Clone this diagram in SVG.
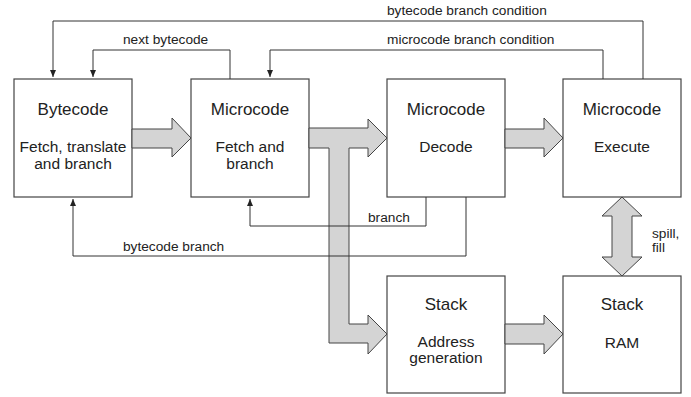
<svg xmlns="http://www.w3.org/2000/svg" width="691" height="397" viewBox="0 0 691 397">
<defs>
<style>
.box{fill:#fff;stroke:#444;stroke-width:1.2}
.fat{fill:#d4d4d4;stroke:#444;stroke-width:1}
.ln{fill:none;stroke:#333;stroke-width:1}
.t{font-family:"Liberation Sans",Arial,sans-serif;fill:#222}
.h{font-size:17px;text-anchor:middle}
.s{font-size:15.5px;text-anchor:middle}
.l{font-size:13.7px}
</style>
<marker id="ah" markerUnits="userSpaceOnUse" markerWidth="8" markerHeight="7" refX="7" refY="3" orient="auto">
<path d="M0,0 L7,3 L0,6 z" fill="#222"/>
</marker>
</defs>
<rect width="691" height="397" fill="#fff"/>

<g id="bytecode-fetch">
<rect class="box" x="14" y="79" width="118" height="118"/>
<text class="t h" x="73" y="115">Bytecode</text>
<text class="t s" x="73" y="152">Fetch, translate</text>
<text class="t s" x="73" y="169">and branch</text>
</g>
<g id="microcode-fetch">
<rect class="box" x="191" y="79" width="118" height="118"/>
<text class="t h" x="250" y="115">Microcode</text>
<text class="t s" x="250" y="152">Fetch and</text>
<text class="t s" x="250" y="169">branch</text>
</g>
<g id="microcode-decode">
<rect class="box" x="387" y="79" width="118" height="118"/>
<text class="t h" x="446" y="115">Microcode</text>
<text class="t s" x="446" y="152">Decode</text>
</g>
<g id="microcode-execute">
<rect class="box" x="563" y="79" width="118" height="118"/>
<text class="t h" x="622" y="115">Microcode</text>
<text class="t s" x="622" y="152">Execute</text>
</g>
<g id="stack-address">
<rect class="box" x="387" y="276" width="118" height="117"/>
<text class="t h" x="446" y="310">Stack</text>
<text class="t s" x="446" y="347">Address</text>
<text class="t s" x="446" y="363">generation</text>
</g>
<g id="stack-ram">
<rect class="box" x="563" y="276" width="118" height="117"/>
<text class="t h" x="622" y="310">Stack</text>
<text class="t s" x="622" y="348">RAM</text>
</g>

<g id="connectors">
<polygon class="fat" points="132,129 172,129 172,118 191,138 172,157 172,148 132,148"/>
<polygon class="fat" points="309,128 368,128 368,119 387,138 368,157 368,148 349,148 349,324 368,324 368,315 387,334 368,354 368,343 329,343 329,148 309,148"/>
<polygon class="fat" points="505,129 544,129 544,118 563,138 544,157 544,148 505,148"/>
<polygon class="fat" points="505,324 544,324 544,315 563,334 544,354 544,344 505,344"/>
<polygon class="fat" points="622,197 642,216 632,216 632,257 642,257 622,276 602,257 612,257 612,216 602,216"/>

<path class="ln" d="M643,79 V21 H53 V77" marker-end="url(#ah)"/>
<path class="ln" d="M230,79 V50 H93 V77" marker-end="url(#ah)"/>
<path class="ln" d="M603,79 V50 H270 V77" marker-end="url(#ah)"/>
<path class="ln" d="M426,197 V226 H250 V199" marker-end="url(#ah)"/>
<path class="ln" d="M466,197 V256 H73 V199" marker-end="url(#ah)"/>

<text class="t l" x="387" y="15">bytecode branch condition</text>
<text class="t l" x="387" y="44">microcode branch condition</text>
<text class="t l" x="123" y="44">next bytecode</text>
<text class="t l" x="368" y="222">branch</text>
<text class="t l" x="123" y="251">bytecode branch</text>
<text class="t l" x="652" y="238">spill,</text>
<text class="t l" x="652" y="252">fill</text>
</g>
</svg>
